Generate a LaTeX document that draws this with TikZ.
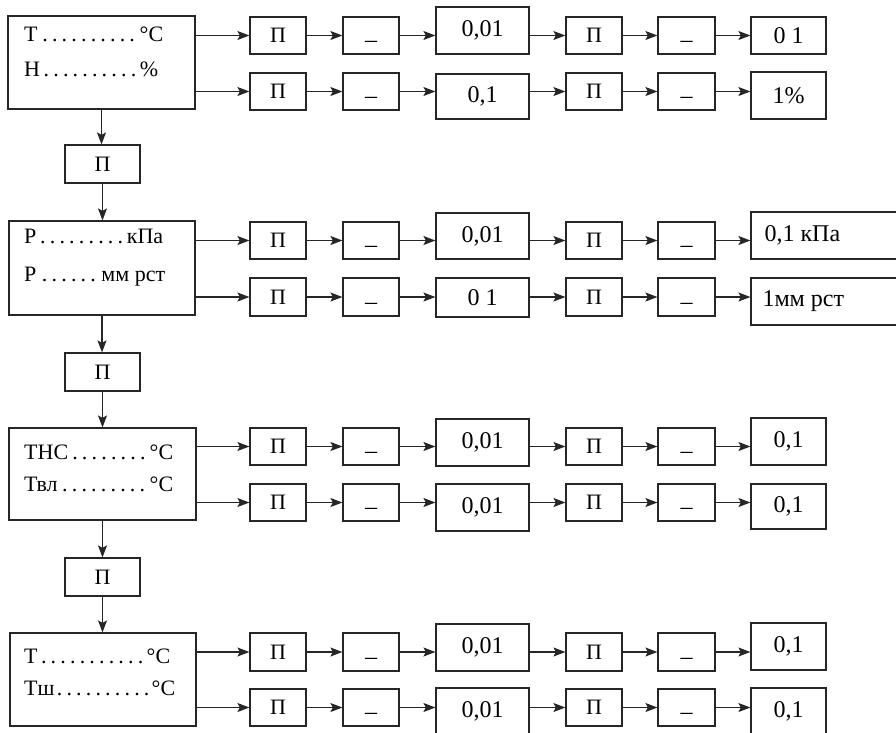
\documentclass[tikz,border=0pt]{standalone}
\usepackage{fontspec}
\setmainfont{Liberation Serif}
\usetikzlibrary{arrows.meta}
\tikzset{
  box/.style={draw=black!85, line width=1.2pt, inner sep=0pt, font=\fontsize{24}{26}\selectfont},
  arr/.style={draw=black!85, line width=1.2pt, -{Stealth[length=12pt,width=9pt,inset=2.5pt]}},
  lbl/.style={anchor=base west, inner sep=0pt, font=\fontsize{22}{24}\selectfont},
}
\newcommand\bx[6]{\node[box,minimum width={(#4-#2)*1pt},minimum height={(#5-#3)*1pt}] (#1) at ({(#2+#4)/2},{(#3+#5)/2}) {#6};}
\newcommand\pe{{\fontsize{22}{24}\selectfont П}}
\newcommand\dsh{\raisebox{-12pt}[0pt][0pt]{–}}
% #1 prefix, #2 main block, #3 small top, #4 small bottom, #5 number top, #6 number bottom, #7 number text
\newcommand\chain[7]{%
  \bx{#1a}{250}{#3}{306}{#4}{\pe}
  \bx{#1b}{343}{#3}{399}{#4}{\dsh}
  \bx{#1c}{436}{#5}{529}{#6}{#7}
  \bx{#1d}{566}{#3}{622}{#4}{\pe}
  \bx{#1e}{658}{#3}{715}{#4}{\dsh}
  \draw[arr] (#2.east |- #1a.west) -- (#1a.west);
  \draw[arr] (#1a) -- (#1b);
  \draw[arr] (#1b.east) -- (#1b.east -| #1c.west);
  \draw[arr] (#1d.west -| #1c.east) -- (#1d.west);
  \draw[arr] (#1d) -- (#1e);
}
\newcommand\fin[5]{% #1 prefix, #2 x right, #3 top, #4 bottom, #5 text
  \bx{#1f}{751}{#3}{#2}{#4}{#5}
  \draw[arr] (#1e.east) -- (#1e.east -| #1f.west);
}
\begin{document}
\begin{tikzpicture}[x=1pt,y=-1pt]
\useasboundingbox (0,0) rectangle (896,732);
\clip (0,0) rectangle (896,732);
\fill[white] (0,0) rectangle (896,732);

% main blocks
\bx{B1}{8}{16}{195}{109}{}
\node[lbl] (B1a) at (24,41) {\makebox[139pt][l]{Т\dotfill°С}};
\node[lbl] (B1b) at (24,76) {\makebox[134pt][l]{Н\dotfill\%}};

\bx{B2}{9}{221}{195}{315}{}
\node[lbl] (B2a) at (24,243) {\makebox[139pt][l]{Р\dotfill кПа}};
\node[lbl] (B2b) at (24,281) {\makebox[141pt][l]{Р\dotfill мм рст}};

\bx{B3}{9}{428}{196}{520}{}
\node[lbl] (B3a) at (24,459) {\makebox[149pt][l]{ТНС\dotfill°С}};
\node[lbl] (B3b) at (24,491) {\makebox[149pt][l]{Твл\dotfill°С}};

\bx{B4}{10}{633}{196}{726}{}
\node[lbl] (B4a) at (24,663) {\makebox[146pt][l]{Т\dotfill°С}};
\node[lbl] (B4b) at (24,695) {\makebox[151pt][l]{Тш\dotfill°С}};

% small boxes between blocks
\bx{S1}{65}{145}{140}{183}{\pe}
\bx{S2}{65}{353}{140}{391}{\pe}
\bx{S3}{65}{558}{140}{596}{\pe}
\draw[arr] (B1.south) -- (B1.south |- S1.north);
\draw[arr] (S1.south) -- (S1.south |- B2.north);
\draw[arr] (B2.south) -- (B2.south |- S2.north);
\draw[arr] (S2.south) -- (S2.south |- B3.north);
\draw[arr] (B3.south) -- (B3.south |- S3.north);
\draw[arr] (S3.south) -- (S3.south |- B4.north);

% chains
\chain{R11}{B1}{17}{54}{7}{54}{0,01}
\fin{R11}{826}{17}{54}{0 1}
\chain{R12}{B1}{73}{110}{74}{119}{0,1}
\fin{R12}{826}{72}{119}{1\%}

\chain{R21}{B2}{222}{259}{213}{259}{0,01}
\fin{R21}{902}{212}{259}{\makebox[124pt][l]{0,1 кПа}}
\chain{R22}{B2}{278}{316}{278}{317}{0 1}
\fin{R22}{902}{278}{325}{\makebox[128pt][l]{1мм рст}}

\chain{R31}{B3}{428}{465}{419}{466}{0,01}
\fin{R31}{826}{418}{465}{0,1}
\chain{R32}{B3}{484}{521}{484}{531}{0,01}
\fin{R32}{826}{484}{529}{0,1}

\chain{R41}{B4}{633}{671}{624}{671}{0,01}
\fin{R41}{826}{623}{670}{0,1}
\chain{R42}{B4}{689}{726}{688}{735}{0,01}
\fin{R42}{826}{688}{735}{0,1}
\end{tikzpicture}
\end{document}
